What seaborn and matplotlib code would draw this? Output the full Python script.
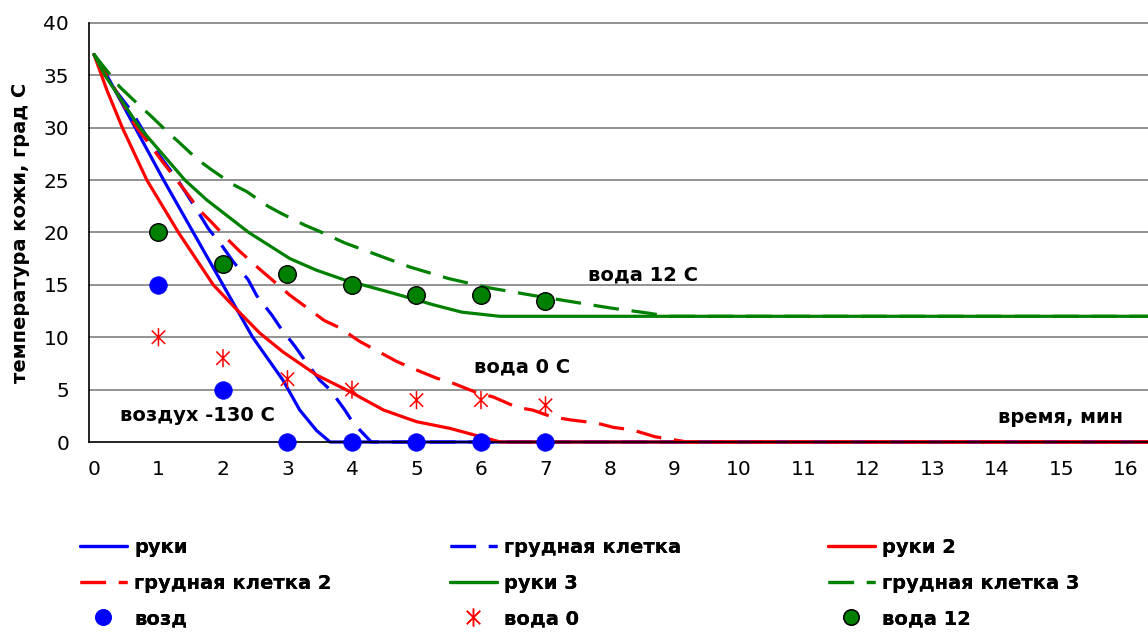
import numpy as np
import pandas as pd
import matplotlib
matplotlib.use("Agg")
import matplotlib.pyplot as plt
from matplotlib.path import Path
from matplotlib.lines import Line2D
import seaborn as sns

# ---------------- data ----------------
# руки (blue solid)
ruki_x = [0, 0.2, 0.64, 1.08, 1.54, 2.0, 2.46, 2.93, 3.19, 3.45, 3.66, 17]
ruki_y = [37, 35, 30, 25, 20, 15, 10, 5.9, 3.05, 1.1, 0, 0]
# грудная клетка (blue dashed)
grud_x = [0, 0.33, 0.58, 0.9, 1.3, 1.64, 1.77, 2.0, 2.16, 2.39, 2.52, 2.76, 2.88, 3.12,
          3.27, 3.5, 3.66, 3.89, 4.02, 4.3, 17]
grud_y = [37, 33.6, 31.6, 28.3, 25, 21.7, 20.4, 18.6, 17.2, 15.5, 14, 12.1, 11, 9.1,
          7.8, 5.9, 5.0, 3.05, 1.8, 0, 0]
# руки 2 (red solid)
ruki2_x = [0, 0.2, 0.44, 0.82, 1.31, 1.85, 2.22, 2.57, 2.93, 3.45, 3.97, 4.49,
           5.0, 5.52, 6.0, 6.3, 17]
ruki2_y = [37, 33.6, 30, 25, 20, 15, 12.6, 10.4, 8.6, 6.4, 4.8, 3.05,
           1.94, 1.3, 0.5, 0, 0]
# грудная клетка 2 (red dashed)
grud2_x = [0, 0.35, 0.64, 0.89, 1.02, 1.27, 1.41, 1.64, 1.82, 2.08, 2.26, 2.55, 2.74,
           3.04, 3.24, 3.57, 3.81, 4.12, 4.36, 4.69, 4.95, 5.31, 5.57, 5.94, 6.19,
           6.56, 6.8, 7.1, 7.4, 7.8, 8.05, 8.35, 8.7, 9.0, 9.2, 17]
grud2_y = [37, 33.4, 30.2, 28.2, 27.1, 25.1, 24, 22.1, 21, 19.3, 18.2, 16.6, 15.6,
           14, 13.1, 11.6, 10.9, 9.6, 8.8, 7.7, 7.0, 6.1, 5.6, 4.7, 4.3,
           3.3, 3.05, 2.4, 2.1, 1.8, 1.4, 1.15, 0.5, 0.2, 0, 0]
# руки 3 (green solid)
ruki3_x = [0, 0.17, 0.71, 1.41, 1.75, 2.4, 3.04, 3.45, 3.87, 4.64, 5.26, 5.7, 6.29, 17]
ruki3_y = [37, 35, 30, 25, 23.1, 20, 17.5, 16.4, 15.5, 14.2, 13.1, 12.4, 12, 12]
# грудная клетка 3 (green dashed)
grud3_x = [0, 0.4, 0.69, 0.87, 1.14, 1.32, 1.6, 1.82, 2.15, 2.37, 2.7, 2.91, 3.27,
           3.5, 3.89, 4.33, 4.9, 5.5, 6.14, 6.8, 7.4, 8.0, 8.6, 8.9, 17]
grud3_y = [37, 33.9, 32.2, 31.2, 29.6, 28.6, 27.0, 26.0, 24.6, 23.9, 22.5, 21.8, 20.7,
           20.1, 19.0, 18.0, 16.7, 15.6, 14.7, 14.0, 13.4, 12.8, 12.3, 12, 12]

# measured points
pts_x = [1, 2, 3, 4, 5, 6, 7]
vozd_y = [15, 5, 0, 0, 0, 0, 0]
voda0_y = [10, 8, 6, 5, 4, 4, 3.5]
voda12_y = [20, 17, 16, 15, 14, 14, 13.5]

x_tick_labels = [str(i) for i in range(0, 17)]
y_ticks = [0, 5, 10, 15, 20, 25, 30, 35, 40]

labels = ["руки", "грудная клетка", "руки 2", "грудная клетка 2", "руки 3",
          "грудная клетка 3", "возд", "вода 0", "вода 12"]

# ---------------- figure ----------------
sns.set_style("white")
plt.rcParams["font.family"] = ["DejaVu Sans"]
for k in ["text.color", "axes.labelcolor", "xtick.color", "ytick.color"]:
    plt.rcParams[k] = "black"

W, H = 1148, 634
fig = plt.figure(figsize=(W / 100, H / 100), dpi=100)
left_px, right_px, top_px, bot_px = 88.6, 1148, 23, 442
ax = fig.add_axes([left_px / W, 1 - bot_px / H, (right_px - left_px) / W, (bot_px - top_px) / H])

BLUE, RED, GREEN = "#0000FF", "#FF0000", "#008000"
LW = 2.3
DASH = (0, (8, 4))

line_specs = [
    (ruki_x, ruki_y, BLUE, "-", labels[0]),
    (grud_x, grud_y, BLUE, DASH, labels[1]),
    (ruki2_x, ruki2_y, RED, "-", labels[2]),
    (grud2_x, grud2_y, RED, DASH, labels[3]),
    (ruki3_x, ruki3_y, GREEN, "-", labels[4]),
    (grud3_x, grud3_y, GREEN, DASH, labels[5]),
]
handles = []
for xs, ys, col, ls, lab in line_specs:
    sns.lineplot(x=xs, y=ys, ax=ax, color=col, linewidth=LW, linestyle=ls,
                 sort=False, estimator=None, clip_on=False)
    handles.append(Line2D([], [], color=col, lw=LW, linestyle=ls))

# asterisk marker (X + vertical bar)
star = Path([(-1, -1), (1, 1), (-1, 1), (1, -1), (0, -1.35), (0, 1.35)],
            [Path.MOVETO, Path.LINETO, Path.MOVETO, Path.LINETO, Path.MOVETO, Path.LINETO])

sns.scatterplot(x=pts_x, y=vozd_y, ax=ax, color=BLUE, s=160, marker="o",
                edgecolor=BLUE, linewidth=0.5, zorder=5, clip_on=False)
sns.scatterplot(x=pts_x, y=voda0_y, ax=ax, color=RED, s=170, marker=star,
                edgecolor=RED, facecolor="none", linewidth=1.1, zorder=5, clip_on=False)
sns.scatterplot(x=pts_x, y=voda12_y, ax=ax, color=GREEN, s=160, marker="o",
                edgecolor="black", linewidth=1.0, zorder=5, clip_on=False)
handles.append(Line2D([], [], color=BLUE, marker="o", ms=11, lw=0, markeredgecolor=BLUE))
handles.append(Line2D([], [], color=RED, marker=star, ms=13, lw=0, markeredgewidth=1.1,
                      markerfacecolor="none", markeredgecolor=RED))
handles.append(Line2D([], [], color=GREEN, marker="o", ms=11, lw=0, markeredgecolor="black"))

if ax.get_legend() is not None:
    ax.get_legend().remove()

# axes limits / ticks
x_right = (right_px - 94) / 64.5
ax.set_xlim(-1 / 12, x_right)
ax.set_ylim(0, 40)
ax.set_xticks(range(0, 17))
ax.set_xticklabels(x_tick_labels, fontsize=14.5)
ax.set_xticks(np.arange(-1 / 12, x_right, 1 / 6), minor=True)
ax.tick_params(axis="x", which="major", length=0, pad=13)
ax.tick_params(axis="x", which="minor", length=5, width=1, color="black", direction="out")
ax.set_yticks(y_ticks)
ax.set_yticklabels([str(v) for v in y_ticks], fontsize=14.5)
ax.tick_params(axis="y", which="major", length=6, width=1, color="black", direction="out", pad=8)

for v in y_ticks[1:]:
    ax.axhline(v, color="#808080", lw=1.2, zorder=0, clip_on=False)

for s in ["top", "right"]:
    ax.spines[s].set_visible(False)
for s in ["left", "bottom"]:
    ax.spines[s].set_color("black")
    ax.spines[s].set_linewidth(1.2)

ax.set_xlabel("")
ax.set_ylabel("температура кожи, град С", fontsize=14, fontweight="bold", labelpad=10)

# annotations
ax.text(1.60, 2.5, "воздух -130 С", fontsize=14, fontweight="bold", ha="center", va="center")
ax.text(6.63, 7.2, "вода 0 С", fontsize=14, fontweight="bold", ha="center", va="center")
ax.text(8.51, 15.95, "вода 12 С", fontsize=14, fontweight="bold", ha="center", va="center")
ax.text(14.99, 2.3, "время, мин", fontsize=14, fontweight="bold", ha="center", va="center")

# legend: three columns placed like the reference
col_x = [80, 450, 828]
order = [[0, 3, 6], [1, 4, 7], [2, 5, 8]]
for cx, idx in zip(col_x, order):
    leg = fig.legend([handles[i] for i in idx], [labels[i] for i in idx],
                     loc="upper left", bbox_to_anchor=(cx / W, 1 - 538 / H),
                     frameon=False, ncol=1, handlelength=2.4, handletextpad=0.4,
                     labelspacing=0.85, borderpad=0, borderaxespad=0,
                     prop={"size": 14, "weight": "bold"})
    fig.add_artist(leg)

fig.savefig("out.png", dpi=100)
